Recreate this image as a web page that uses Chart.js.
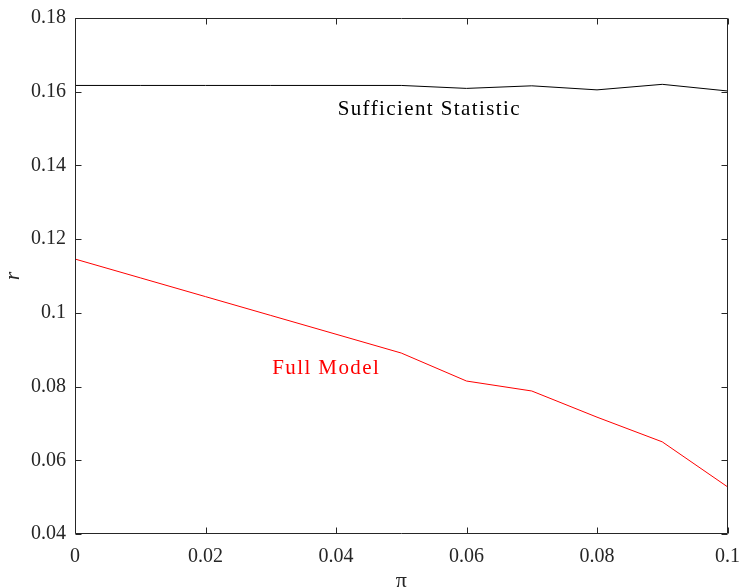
<!DOCTYPE html>
<html><head><meta charset="utf-8">
<script src="https://cdn.jsdelivr.net/npm/chart.js@4/dist/chart.umd.min.js"></script>
<style>html,body{margin:0;padding:0;background:#fff}#wrap{width:743px;height:588px}</style>
</head><body><div id="wrap"><canvas id="c" width="743" height="588"></canvas></div>
<script>
const piValues = [0, 0.01, 0.02, 0.03, 0.04, 0.05, 0.06, 0.07, 0.08, 0.09, 0.1];
const sufficientStatistic = [0.1617, 0.1617, 0.1617, 0.1617, 0.1617, 0.1617, 0.1609, 0.1616, 0.1605, 0.1620, 0.1602];
const fullModel = [0.1146, 0.1095, 0.1044, 0.0993, 0.0942, 0.0891, 0.0815, 0.0788, 0.0717, 0.0650, 0.0528];
const xTicks = [0, 0.02, 0.04, 0.06, 0.08, 0.1];
const yTicks = [0.04, 0.06, 0.08, 0.1, 0.12, 0.14, 0.16, 0.18];
const annotations = [
  {text: 'Sufficient Statistic', x: 0.0543, y: 0.1553, color: '#000000'},
  {text: 'Full Model', x: 0.0385, y: 0.0850, color: '#ff0000'}
];
const FONT = '"Liberation Serif", "DejaVu Serif", serif';
const fmt = v => (+v.toFixed(4)).toString();

const boxPlugin = {
  id: 'box',
  afterDraw(chart) {
    const ctx = chart.ctx, a = chart.chartArea, xs = chart.scales.x, ys = chart.scales.y;
    ctx.save();
    ctx.strokeStyle = '#262626';
    ctx.lineWidth = 1;
    ctx.beginPath();
    const L = Math.round(a.left) + 0.5, R = Math.round(a.right) - 0.5, T = Math.round(a.top) + 0.5, B = Math.round(a.bottom) - 0.5;
    ctx.rect(L, T, R - L, B - T);
    const tl = 6;
    xTicks.forEach(v => {
      const px = Math.round(xs.getPixelForValue(v)) + 0.5;
      ctx.moveTo(px, B); ctx.lineTo(px, B - tl);
      ctx.moveTo(px, T); ctx.lineTo(px, T + tl);
    });
    yTicks.forEach(v => {
      const py = Math.round(ys.getPixelForValue(v)) + 0.5;
      ctx.moveTo(L, py); ctx.lineTo(L + tl, py);
      ctx.moveTo(R, py); ctx.lineTo(R - tl, py);
    });
    ctx.stroke();
    ctx.font = '21px ' + FONT;
    ctx.letterSpacing = '1.4px';
    ctx.textAlign = 'center';
    ctx.textBaseline = 'middle';
    annotations.forEach(an => {
      ctx.fillStyle = an.color;
      ctx.fillText(an.text, xs.getPixelForValue(an.x), ys.getPixelForValue(an.y));
    });
    ctx.restore();
  }
};

new Chart(document.getElementById('c'), {
  type: 'line',
  data: {
    labels: piValues,
    datasets: [
      {label: 'Sufficient Statistic', data: piValues.map((x, i) => ({x, y: sufficientStatistic[i]})), borderColor: '#000000', borderWidth: 1, pointRadius: 0, tension: 0, fill: false},
      {label: 'Full Model', data: piValues.map((x, i) => ({x, y: fullModel[i]})), borderColor: '#ff0000', borderWidth: 1, pointRadius: 0, tension: 0, fill: false}
    ]
  },
  options: {
    responsive: false,
    animation: false,
    devicePixelRatio: 1,
    layout: {padding: {top: 18, right: 14, left: 0, bottom: 0}},
    plugins: {legend: {display: false}, tooltip: {enabled: false}},
    scales: {
      x: {
        type: 'linear', min: 0, max: 0.1,
        afterBuildTicks: s => { s.ticks = xTicks.map(v => ({value: v})); },
        afterFit: s => { s.height = 54; },
        grid: {display: false}, border: {display: false},
        ticks: {color: '#262626', font: {family: FONT, size: 20}, padding: 3, maxRotation: 0, callback: v => fmt(v)},
        title: {display: true, text: 'π', color: '#262626', font: {family: FONT, size: 22}, padding: {top: 0, bottom: -6}}
      },
      y: {
        type: 'linear', min: 0.04, max: 0.18,
        afterBuildTicks: s => { s.ticks = yTicks.map(v => ({value: v})); },
        afterFit: s => { s.width = 75; },
        grid: {display: false}, border: {display: false},
        ticks: {color: '#262626', font: {family: FONT, size: 20}, padding: 1, callback: v => fmt(v)},
        title: {display: true, text: 'r', color: '#262626', font: {family: FONT, size: 22, style: 'italic'}, padding: {top: 0, bottom: 4}}
      }
    }
  },
  plugins: [boxPlugin]
});
</script></body></html>
